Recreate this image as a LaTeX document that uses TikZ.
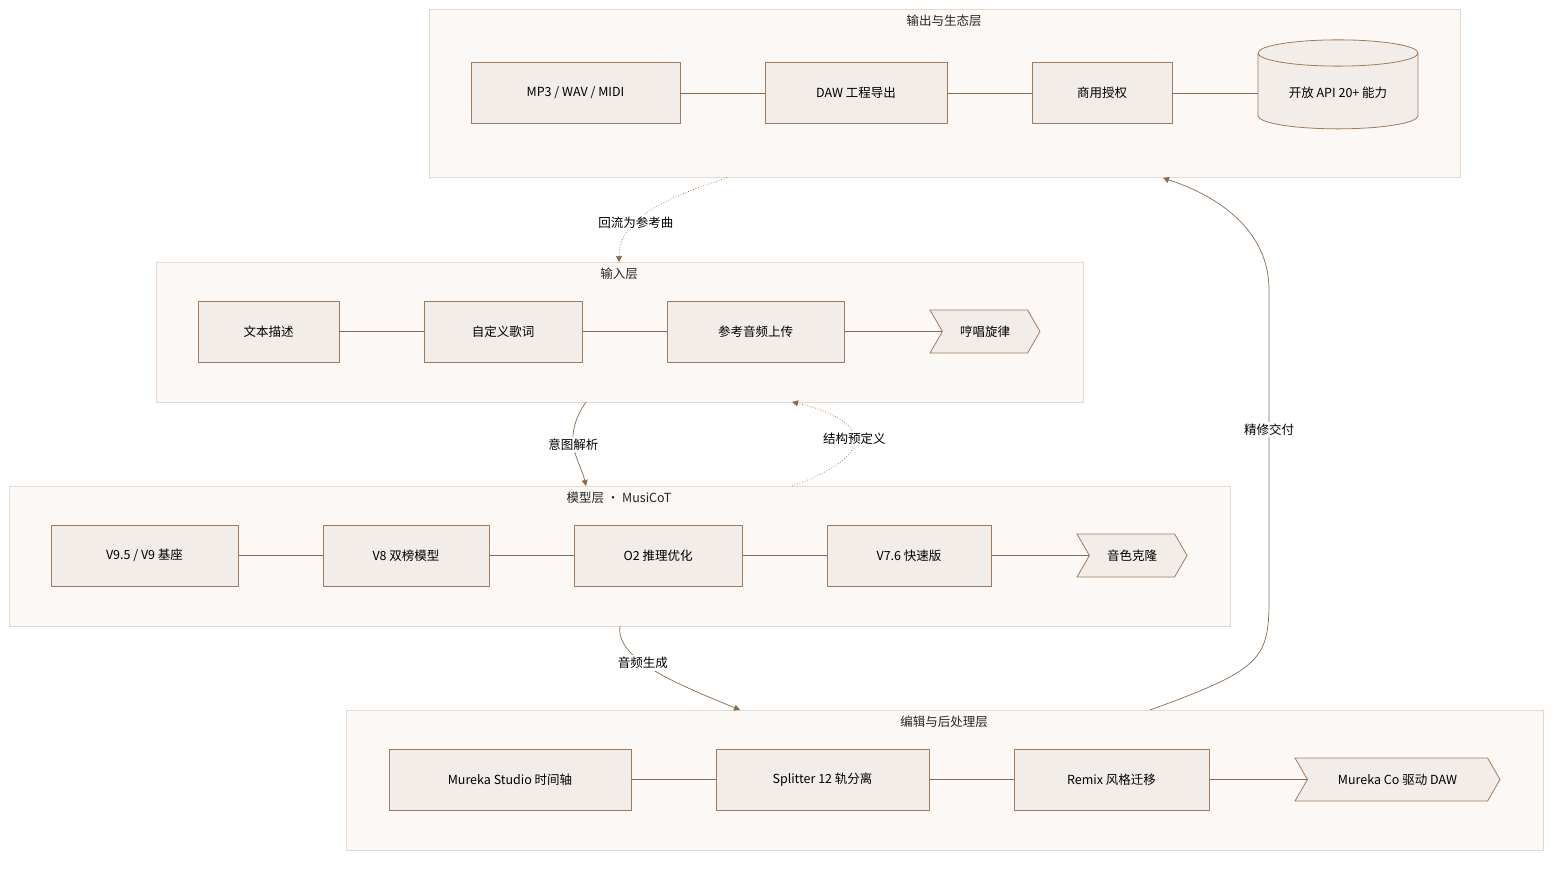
\documentclass[tikz,border=0pt]{standalone}
\usepackage{fontspec}
\setmainfont{Noto Sans CJK SC}
\usetikzlibrary{arrows.meta, shapes.geometric, shapes.symbols}
\definecolor{layerfill}{HTML}{FBF8F5}
\definecolor{layerline}{HTML}{E5D9CF}
\definecolor{boxfill}{HTML}{F2EDE8}
\definecolor{boxline}{HTML}{A07C5E}
\definecolor{linkcol}{HTML}{8B6A4E}
\tikzset{
  layer/.style={draw=layerline, fill=layerfill, line width=0.8pt},
  layer title/.style={font=\fontsize{12.5}{14}\selectfont, text=black!85},
  box/.style={draw=boxline, fill=boxfill, line width=0.8pt, font=\fontsize{12.5}{14}\selectfont},
  hexbox/.style={box, shape=signal, signal from=west, signal to=east, signal pointer angle=120, minimum width=110pt, minimum height=43pt, inner sep=2pt},
  dbbox/.style={box, shape=cylinder, shape border rotate=90, aspect=0.25, minimum width=160pt, minimum height=89pt},
  link/.style={draw=linkcol, line width=0.7pt},
  flow/.style={link, -{Triangle[length=6pt,width=6pt]}},
  dotflow/.style={flow, dotted},
  lbl/.style={fill=white, font=\fontsize{12.5}{14}\selectfont, inner sep=2pt}
}
\begin{document}
\begin{tikzpicture}[x=1pt, y=-1pt]
  \useasboundingbox (0,0) rectangle (1568,870);
  % layers
  \draw[layer] (429,9) rectangle (1460,177);
  \node[layer title] (outT) at (944,21) {输出与生态层};
  \draw[layer] (156,262) rectangle (1083,402);
  \node[layer title] (inT) at (619,274) {输入层};
  \draw[layer] (9,486) rectangle (1230,626);
  \node[layer title] (modT) at (619,498) {模型层 · MusiCoT};
  \draw[layer] (346,710) rectangle (1543,850);
  \node[layer title] (edT) at (944,722) {编辑与后处理层};
  \coordinate (outS) at (727,178);
  \coordinate (outE) at (1163,178);
  \coordinate (inN) at (619,262);
  \coordinate (inS) at (586,402);
  \coordinate (inSE) at (792,402);
  \coordinate (modN) at (586,486);
  \coordinate (modNE) at (792,486);
  \coordinate (modS) at (620,626);
  \coordinate (edN) at (740,710);
  \coordinate (edNE) at (1150,710);
  % output layer
  \node[box, minimum width=209pt, minimum height=61pt] (mp3) at (575.5,93) {MP3 / WAV / MIDI};
  \node[box, minimum width=182pt, minimum height=61pt] (daw) at (856,93) {DAW 工程导出};
  \node[box, minimum width=140pt, minimum height=61pt] (lic) at (1102,93) {商用授权};
  \node[dbbox] (api) at (1338,93) {开放 API 20+ 能力};
  \draw[link] (mp3) -- (daw);
  \draw[link] (daw) -- (lic);
  \draw[link] (lic) -- (api);
  % input layer
  \node[box, minimum width=141pt, minimum height=61pt] (txt) at (268.5,331.5) {文本描述};
  \node[box, minimum width=158pt, minimum height=61pt] (lyr) at (503,331.5) {自定义歌词};
  \node[box, minimum width=177pt, minimum height=61pt] (ref) at (755.5,331.5) {参考音频上传};
  \node[hexbox] (hum) at (985,331.5) {哼唱旋律};
  \draw[link] (txt) -- (lyr);
  \draw[link] (lyr) -- (ref);
  \draw[link] (ref) -- (hum);
  % model layer
  \node[box, minimum width=187pt, minimum height=61pt] (v95) at (144.5,555.5) {V9.5 / V9 基座};
  \node[box, minimum width=166pt, minimum height=61pt] (v8) at (406,555.5) {V8 双榜模型};
  \node[box, minimum width=168pt, minimum height=61pt] (o2) at (658,555.5) {O2 推理优化};
  \node[box, minimum width=164pt, minimum height=61pt] (v76) at (909,555.5) {V7.6 快速版};
  \node[hexbox] (clone) at (1132,555.5) {音色克隆};
  \draw[link] (v95) -- (v8);
  \draw[link] (v8) -- (o2);
  \draw[link] (o2) -- (v76);
  \draw[link] (v76) -- (clone);
  % edit layer
  \node[box, minimum width=242pt, minimum height=61pt] (studio) at (510,779.5) {Mureka Studio 时间轴};
  \node[box, minimum width=213pt, minimum height=61pt] (split) at (822.5,779.5) {Splitter 12 轨分离};
  \node[box, minimum width=195pt, minimum height=61pt] (remix) at (1111.5,779.5) {Remix 风格迁移};
  \node[hexbox, minimum width=205pt] (co) at (1397.5,779.5) {Mureka Co 驱动 DAW};
  \draw[link] (studio) -- (split);
  \draw[link] (split) -- (remix);
  \draw[link] (remix) -- (co);
  % between layers
  \draw[dotflow] (outS) .. controls (640,205) and (619,230) .. node[lbl, pos=0.55] {回流为参考曲} (inN);
  \draw[flow] (inS) .. controls (560,440) and (580,460) .. node[lbl, pos=0.45] {意图解析} (modN);
  \draw[dotflow] (modNE) .. controls (880,455) and (870,420) .. node[lbl, pos=0.5] {结构预定义} (inSE);
  \draw[flow] (modS) .. controls (615,660) and (680,685) .. node[lbl, pos=0.4] {音频生成} (edN);
  \draw[flow] (edNE) .. controls (1260,670) and (1269,660) .. (1269,600) -- node[lbl, pos=0.55] {精修交付} (1269,290) .. controls (1269,220) and (1200,190) .. (outE);
\end{tikzpicture}
\end{document}
